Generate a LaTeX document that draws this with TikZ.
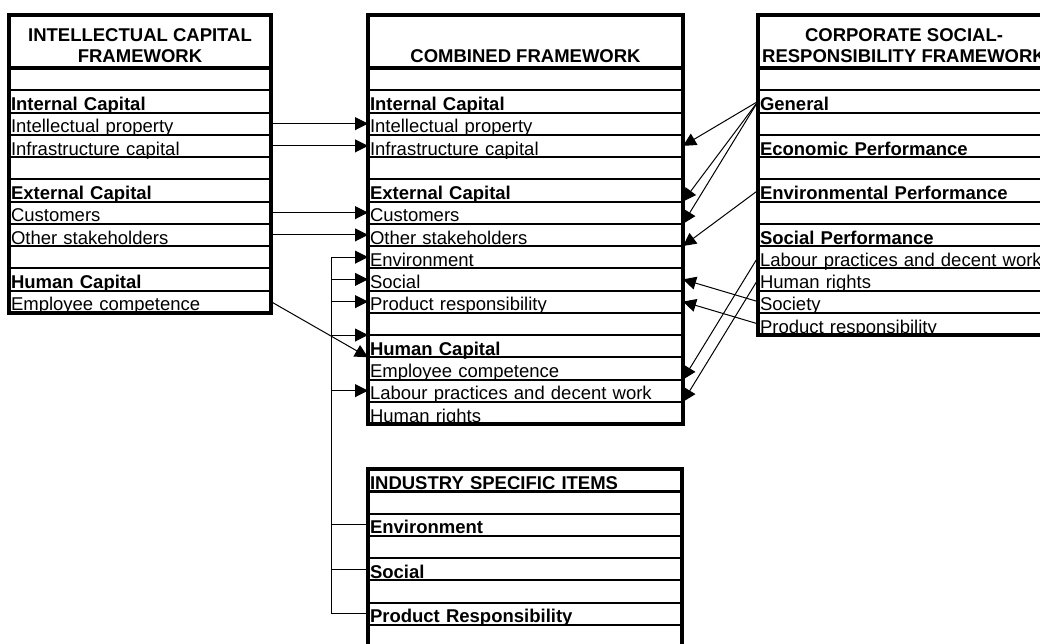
\documentclass[tikz,border=0pt]{standalone}
\usepackage{fontspec}
\setmainfont{Liberation Sans}
\usetikzlibrary{arrows.meta,positioning}
\newcommand\cellfont{\fontsize{18.5}{21.5}\selectfont}
\newcommand\headbox[2]{\parbox[c][43pt][b]{#1}{\centering #2}}

\begin{document}
\begin{tikzpicture}[x=1pt, y=-1pt,
    cell/.style={draw, line width=2pt, outer sep=0pt, inner xsep=2pt, inner ysep=2pt,
        text height=18.25pt, text depth=0pt, text width=#1, align=left, font=\cellfont},
    lcell/.style={cell=258pt},
    mcell/.style={cell=311pt},
    rcell/.style={cell=288pt},
    scell/.style={cell=310pt},
    head/.style={draw, line width=3.5pt, outer sep=0pt, inner sep=0pt, anchor=north west,
        minimum width=#1, minimum height=53pt, font=\cellfont\bfseries},
    frame/.style={line width=3.5pt},
    link/.style={-{Triangle[length=13pt, width=13pt]}, line width=1pt}
  ]
    \useasboundingbox (0,0) rectangle (1040,643);
    \clip (0,0) rectangle (1040,643);

    % intellectual capital framework
    \node[head=262pt] (lhead) at (9,15) {\headbox{256pt}{INTELLECTUAL CAPITAL\\FRAMEWORK}};
    \node[lcell, below=0pt of lhead] (l0) {};
    \node[lcell, below=0pt of l0] (l1) {\textbf{Internal Capital}};
    \node[lcell, below=0pt of l1] (l2) {Intellectual property};
    \node[lcell, below=0pt of l2] (l3) {Infrastructure capital};
    \node[lcell, below=0pt of l3] (l4) {};
    \node[lcell, below=0pt of l4] (l5) {\textbf{External Capital}};
    \node[lcell, below=0pt of l5] (l6) {Customers};
    \node[lcell, below=0pt of l6] (l7) {Other stakeholders};
    \node[lcell, below=0pt of l7] (l8) {};
    \node[lcell, below=0pt of l8] (l9) {\textbf{Human Capital}};
    \node[lcell, below=0pt of l9] (l10) {Employee competence};
    \draw[frame] (lhead.north west) rectangle (l10.south east);

    % combined framework
    \node[head=315pt] (mhead) at (368,15) {\headbox{309pt}{COMBINED FRAMEWORK}};
    \node[mcell, below=0pt of mhead] (m0) {};
    \node[mcell, below=0pt of m0] (m1) {\textbf{Internal Capital}};
    \node[mcell, below=0pt of m1] (m2) {Intellectual property};
    \node[mcell, below=0pt of m2] (m3) {Infrastructure capital};
    \node[mcell, below=0pt of m3] (m4) {};
    \node[mcell, below=0pt of m4] (m5) {\textbf{External Capital}};
    \node[mcell, below=0pt of m5] (m6) {Customers};
    \node[mcell, below=0pt of m6] (m7) {Other stakeholders};
    \node[mcell, below=0pt of m7] (m8) {Environment};
    \node[mcell, below=0pt of m8] (m9) {Social};
    \node[mcell, below=0pt of m9] (m10) {Product responsibility};
    \node[mcell, below=0pt of m10] (m11) {};
    \node[mcell, below=0pt of m11] (m12) {\textbf{Human Capital}};
    \node[mcell, below=0pt of m12] (m13) {Employee competence};
    \node[mcell, below=0pt of m13] (m14) {Labour practices and decent work};
    \node[mcell, below=0pt of m14] (m15) {Human rights};
    \draw[frame] (mhead.north west) rectangle (m15.south east);

    % csr framework
    \node[head=292pt] (rhead) at (758,15) {\headbox{288pt}{CORPORATE SOCIAL-\\RESPONSIBILITY FRAMEWORK}};
    \node[rcell, below=0pt of rhead] (r0) {};
    \node[rcell, below=0pt of r0] (r1) {\textbf{General}};
    \node[rcell, below=0pt of r1] (r2) {};
    \node[rcell, below=0pt of r2] (r3) {\textbf{Economic Performance}};
    \node[rcell, below=0pt of r3] (r4) {};
    \node[rcell, below=0pt of r4] (r5) {\textbf{Environmental Performance}};
    \node[rcell, below=0pt of r5] (r6) {};
    \node[rcell, below=0pt of r6] (r7) {\textbf{Social Performance}};
    \node[rcell, below=0pt of r7] (r8) {Labour practices and decent work};
    \node[rcell, below=0pt of r8] (r9) {Human rights};
    \node[rcell, below=0pt of r9] (r10) {Society};
    \node[rcell, below=0pt of r10] (r11) {Product responsibility};
    \draw[frame] (rhead.north west) rectangle (r11.south east);

    % industry specific items
    \node[scell, anchor=north west] (s0) at (368,469) {\textbf{INDUSTRY SPECIFIC ITEMS}};
    \node[scell, below=0pt of s0] (s1) {};
    \node[scell, below=0pt of s1] (s2) {\textbf{Environment}};
    \node[scell, below=0pt of s2] (s3) {};
    \node[scell, below=0pt of s3] (s4) {\textbf{Social}};
    \node[scell, below=0pt of s4] (s5) {};
    \node[scell, below=0pt of s5] (s6) {\textbf{Product Responsibility}};
    \node[scell, below=0pt of s6] (s7) {};
    \draw[frame] (s0.north west) rectangle (s7.south east);
    \draw[frame] (s0.south west) -- (s0.south east);

    % left to combined
    \draw[link] (l2.east) -- (m2.west);
    \draw[link] (l3.east) -- (m3.west);
    \draw[link] (l6.east) -- (m6.west);
    \draw[link] (l7.east) -- (m7.west);
    \draw[link] (l10.east) -- (m13.north west);

    % industry items to combined
    \coordinate (bus) at (331,0);
    \draw[link] (s6.west) -- (s6.west -| bus) -- (bus |- m8.west) -- (m8.west);
    \draw (s2.west) -- (s2.west -| bus);
    \draw (s4.west) -- (s4.west -| bus);
    \draw[link] (bus |- m9.west) -- (m9.west);
    \draw[link] (bus |- m10.west) -- (m10.west);
    \draw[link] (bus |- m11.south west) -- (m11.south west);
    \draw[link] (bus |- m14.west) -- (m14.west);

    % csr to combined
    \draw[link] (r1.west) -- (m3.east);
    \draw[link] (r1.west) -- (m6.north east);
    \draw[link] (r1.west) -- (m7.north east);
    \draw[link] (r5.west) -- (m8.north east);
    \draw[link] (r8.west) -- (m14.north east);
    \draw[link] (r9.west) -- (m15.north east);
    \draw[link] (r10.west) -- (m9.east);
    \draw[link] (r11.west) -- (m10.east);
\end{tikzpicture}
\end{document}
